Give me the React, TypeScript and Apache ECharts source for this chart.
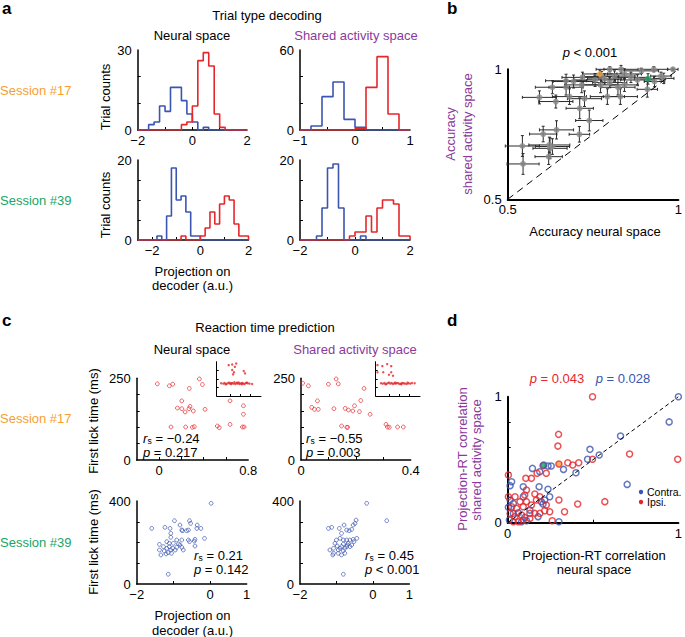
import React, { useEffect, useRef } from 'react';
import * as echarts from 'echarts';

const FONTNAME = '"Liberation Sans", Arial, Helvetica, sans-serif';
const RED = '#e5262b';
const BLUE = '#3b55b0';
const ORANGE = '#f5a032';
const GREEN = '#1aa564';
const PURPLE = '#8b3a9c';
const GRAY = '#8a8a8a';

// ---------- Panel a: histograms (bin width 0.2) ----------
const BIN = 0.2;
const a17NeuralBlueStart = -1.6;
const a17NeuralBlue = [2, 3, 9, 7, 16, 16, 11, 6, 3, 0, 1];
const a17NeuralRedStart = -0.4;
const a17NeuralRed = [2, 3, 9, 26, 29, 24, 6, 1];
const a17SharedBlueStart = -0.8;
const a17SharedBlue = [3, 25, 36, 8, 2];
const a17SharedRedStart = 0;
const a17SharedRed = [1, 32, 55, 12];
const a39NeuralBlueStart = -1.8;
const a39NeuralBlue = [1, 0, 6, 18, 10, 11, 7, 1, 1];
const a39NeuralRedStart = -0.8;
const a39NeuralRed = [1, 0, 0, 0, 1, 3, 7, 4, 9, 11, 10, 4, 1, 1];
const a39SharedBlueStart = -1.4;
const a39SharedBlue = [1, 8, 18, 19, 8, 0, 0, 0, 1];
const a39SharedRedStart = -0.2;
const a39SharedRed = [1, 2, 2, 6, 2, 8, 10, 10, 9, 1, 1];

// ---------- Panel b: accuracy ----------
const bNeural = [0.984, 0.928, 0.949, 0.892, 0.957, 0.799, 0.832, 0.842, 0.813, 0.784, 0.756, 0.861, 0.88, 0.93, 0.909, 0.719, 0.693, 0.671, 0.631, 0.671, 0.717, 0.772, 0.823, 0.842, 0.792, 0.83, 0.593, 0.641, 0.681, 0.725, 0.711, 0.739, 0.643, 0.604, 0.71, 0.622, 0.624, 0.543, 0.545, 0.62, 0.631, 0.775, 0.799];
const bShared = [1.0, 1.0, 0.974, 0.994, 0.965, 1.0, 1.0, 0.982, 0.974, 0.963, 0.959, 0.969, 0.959, 0.953, 0.923, 0.969, 0.953, 0.956, 0.931, 0.931, 0.94, 0.94, 0.931, 0.94, 0.895, 0.895, 0.892, 0.876, 0.895, 0.887, 0.85, 0.803, 0.767, 0.751, 0.75, 0.709, 0.696, 0.705, 0.636, 0.664, 0.703, 0.972, 0.949];
const bErrNeural = [0.015, 0.04, 0.03, 0.05, 0.03, 0.04, 0.05, 0.05, 0.06, 0.05, 0.06, 0.05, 0.05, 0.03, 0.03, 0.06, 0.06, 0.06, 0.05, 0.05, 0.05, 0.05, 0.05, 0.04, 0.05, 0.05, 0.05, 0.05, 0.05, 0.05, 0.04, 0.04, 0.05, 0.04, 0.03, 0.06, 0.05, 0.05, 0.047, 0.04, 0.05, 0.05, 0.05];
const bErrShared = [0.005, 0.01, 0.015, 0.01, 0.02, 0.01, 0.015, 0.02, 0.02, 0.02, 0.025, 0.02, 0.02, 0.02, 0.03, 0.02, 0.025, 0.025, 0.025, 0.03, 0.03, 0.03, 0.03, 0.025, 0.03, 0.03, 0.025, 0.025, 0.03, 0.03, 0.04, 0.04, 0.035, 0.03, 0.03, 0.03, 0.04, 0.04, 0.04, 0.03, 0.03, 0.02, 0.02];
const bSession17 = [0.77, 0.982, 0.05, 0.015];
const bSession39 = [0.911, 0.963, 0.04, 0.02];

// ---------- Panel c: RT prediction ----------
const c17NeuralX = [-0.015, 0.093, 0.123, 0.272, 0.362, 0.389, 0.204, 0.165, 0.204, 0.234, 0.269, 0.278, 0.308, 0.413, 0.637, 0.757, 0.757, 0.108, 0.239, 0.299, 0.317, 0.523, 0.541, 0.637, 0.748, 0.763];
const c17NeuralY = [233, 227, 232, 219, 248, 231, 181, 159, 157, 147, 157, 164, 150, 155, 181, 166, 140, 101, 101, 100, 102, 104, 99, 109, 101, 101];
const c17SharedX = [0.006, 0.027, 0.1, 0.128, 0.136, 0.23, 0.06, 0.039, 0.049, 0.063, 0.12, 0.161, 0.173, 0.189, 0.195, 0.213, 0.218, 0.252, 0.148, 0.167, 0.17, 0.31, 0.315, 0.322, 0.352, 0.373];
const c17SharedY = [235, 227, 232, 248, 233, 219, 181, 161, 155, 155, 157, 158, 153, 150, 166, 148, 182, 140, 104, 100, 100, 109, 101, 100, 101, 101];
const c39NeuralX = [-1.59, -1.23, -1.09, -0.97, -0.82, -0.56, -0.53, -0.77, -0.75, -0.64, -0.59, -0.36, -0.35, -0.25, 0.03, -1.07, -1.07, -1.18, -0.91, -0.77, -1.38, -1.38, -1.34, -1.25, -1.18, -1.11, -1.07, -1.02, -0.95, -0.91, -1.14, -1.05, -0.82, -0.77, -0.86, -0.59, -0.56, -0.41, -0.43, -0.15, -1.14, -1.2, -1.0, -1.11, -1.27, -0.73, -0.41];
const c39NeuralY = [268, 273, 268, 305, 284, 305, 292, 260, 257, 257, 260, 268, 284, 268, 389, 244, 225, 204, 212, 212, 191, 164, 140, 159, 172, 180, 164, 172, 164, 177, 151, 148, 188, 177, 193, 212, 204, 183, 207, 220, 47, 145, 196, 196, 180, 164, 215];
const c39SharedX = [-1.22, -1.13, -0.79, -0.92, -0.72, -0.65, -0.58, -0.54, -0.46, -0.49, -0.86, -0.9, -0.81, -0.72, -0.63, -0.54, -0.44, -1.04, -0.98, -1.08, -1.18, -1.08, -0.95, -0.9, -0.86, -0.81, -0.77, -0.72, -0.68, -0.58, -0.77, -0.86, -0.95, -0.81, -0.63, -0.52, -0.17, 0.38, -0.81, -0.7, -1.0, -1.1];
const c39SharedY = [268, 273, 284, 268, 260, 257, 263, 284, 308, 292, 244, 220, 212, 212, 212, 215, 220, 196, 183, 172, 164, 148, 164, 172, 180, 161, 172, 180, 196, 188, 148, 140, 148, 193, 180, 204, 389, 305, 47, 188, 212, 140];
// insets (relative units)
const insetNeuralX = [0.1, 0.15, 0.18, 0.22, 0.25, 0.28, 0.3, 0.33, 0.35, 0.38, 0.4, 0.42, 0.45, 0.48, 0.5, 0.52, 0.55, 0.58, 0.6, 0.63, 0.66, 0.7, 0.74, 0.8, 0.27, 0.35, 0.44, 0.41, 0.35, 0.39, 0.37, 0.61, 0.64, 0.32, 0.2, 0.46, 0.57, 0.68];
const insetNeuralY = [0.37, 0.36, 0.38, 0.35, 0.37, 0.39, 0.36, 0.35, 0.38, 0.36, 0.4, 0.35, 0.37, 0.36, 0.39, 0.35, 0.37, 0.38, 0.36, 0.35, 0.38, 0.37, 0.36, 0.35, 0.9, 0.92, 0.95, 0.85, 0.76, 0.69, 0.63, 0.73, 0.66, 0.37, 0.34, 0.39, 0.34, 0.39];
const insetSharedX = [0.12, 0.16, 0.2, 0.24, 0.27, 0.3, 0.33, 0.36, 0.39, 0.42, 0.45, 0.48, 0.51, 0.54, 0.57, 0.6, 0.63, 0.66, 0.7, 0.74, 0.78, 0.82, 0.88, 0.04, 0.15, 0.26, 0.35, 0.04, 0.17, 0.35, 0.39, 0.3, 0.22, 0.44, 0.58, 0.72];
const insetSharedY = [0.37, 0.36, 0.38, 0.35, 0.37, 0.39, 0.36, 0.38, 0.35, 0.37, 0.36, 0.38, 0.37, 0.35, 0.36, 0.38, 0.37, 0.36, 0.35, 0.37, 0.36, 0.38, 0.37, 0.9, 0.87, 0.93, 0.87, 0.69, 0.69, 0.69, 0.59, 0.62, 0.34, 0.39, 0.34, 0.39];

// ---------- Panel d: projection-RT correlations ----------
const dContraX = [1.0, 0.946, 0.661, 0.482, 0.536, 0.468, 0.4, 0.327, 0.145, 0.255, 0.236, 0.188, 0.7, 0.023, 0.014, 0.091, 0.184, 0.236, 0.3, 0.014, 0.004, 0.033, 0.091, 0.207, 0.217, 0.1, 0.081, 0.11, 0.178, 0.033, 0.062, 0.01, 0.197, 0.246, 0.13];
const dContraY = [1.0, 0.8, 0.688, 0.582, 0.537, 0.503, 0.397, 0.423, 0.431, 0.45, 0.45, 0.405, 0.304, 0.325, 0.294, 0.286, 0.286, 0.265, 0.008, 0.18, 0.122, 0.153, 0.206, 0.148, 0.18, 0.042, 0.008, 0.016, 0.048, 0.074, 0.079, 0.021, 0.167, 0.206, 0.1];
const dIpsiX = [0.497, 0.298, 0.294, 0.714, 0.996, 0.497, 0.416, 0.381, 0.352, 0.207, 0.172, 0.139, 0.106, 0.226, 0.004, 0.159, 0.11, 0.1, 0.004, 0.043, 0.3, 0.569, 0.41, 0.333, 0.246, 0.261, 0.13, 0.081, 0.062, 0.033, 0.014, 0.023, 0.052, 0.091, 0.11, 0.139, 0.168, 0.188, 0.13, 0.159, 0.217, 0.072, 0.043, 0.188, 0.226, 0.091];
const dIpsiY = [1.0, 0.701, 0.608, 0.545, 0.503, 0.503, 0.476, 0.458, 0.476, 0.452, 0.392, 0.352, 0.352, 0.392, 0.378, 0.228, 0.259, 0.22, 0.206, 0.206, 0.18, 0.167, 0.148, 0.087, 0.087, 0.016, 0.074, 0.061, 0.008, 0.008, 0.074, 0.127, 0.114, 0.127, 0.167, 0.14, 0.18, 0.206, 0.034, 0.074, 0.095, 0.167, 0.048, 0.074, 0.14, 0.021];
const dSession17 = [0.3, 0.466];
const dSession39 = [0.211, 0.458];

// ---------- helpers ----------
const fmt = (v: number) => (v < 0 ? '\u2212' + String(Math.abs(v)) : String(v));
const zip = (xs: number[], ys: number[]) => xs.map((x, i) => [x, ys[i]]);

function steps(start: number, counts: number[], xmin: number, xmax: number) {
  const pts: number[][] = [[xmin, 0]];
  counts.forEach((c, i) => pts.push([+(start + i * BIN).toFixed(4), c]));
  pts.push([+(start + counts.length * BIN).toFixed(4), 0]);
  pts.push([xmax, 0]);
  return pts;
}

function axis(grid: number, min: number, max: number, ticks: number[], labels: number[], isY: boolean, opt: any = {}) {
  return {
    type: 'value',
    gridIndex: grid,
    min,
    max,
    axisLine: { show: true, onZero: false, lineStyle: { color: '#000', width: opt.lw ?? 1.5 } },
    axisTick: { show: true, inside: true, length: opt.tl ?? 3, customValues: ticks, lineStyle: { color: '#000', width: 1 } },
    axisLabel: {
      show: labels.length > 0,
      customValues: labels,
      formatter: (v: number) => fmt(v),
      color: '#000',
      fontSize: 13,
      fontFamily: FONTNAME,
      margin: isY ? 6 : 4,
    },
    splitLine: { show: false },
  };
}

function hist(grid: number, start: number, counts: number[], xmin: number, xmax: number, color: string) {
  return {
    type: 'line',
    xAxisIndex: grid,
    yAxisIndex: grid,
    data: steps(start, counts, xmin, xmax),
    step: 'end',
    symbol: 'none',
    showSymbol: false,
    silent: true,
    lineStyle: { color, width: 1.6 },
  };
}

function openScatter(grid: number, data: number[][], color: string, size: number, bw: number) {
  return {
    type: 'scatter',
    xAxisIndex: grid,
    yAxisIndex: grid,
    data,
    symbol: 'circle',
    symbolSize: size,
    silent: true,
    itemStyle: { color: 'rgba(0,0,0,0)', borderColor: color, borderWidth: bw },
  };
}

function T(text: string, x: number, y: number, o: any = {}) {
  const size = o.size || 13;
  return {
    type: 'text',
    x,
    y,
    rotation: o.rot || 0,
    silent: true,
    style: {
      text,
      fill: o.color || '#000',
      font: `${o.italic ? 'italic ' : ''}${o.bold ? 'bold ' : ''}${size}px ${FONTNAME}`,
      lineHeight: size,
      align: o.align || 'center',
      verticalAlign: 'middle',
      rich: o.rich,
    },
  };
}

function statRich(color: string) {
  return {
    i: { fontStyle: 'italic', fontSize: 13, lineHeight: 13, fontFamily: FONTNAME, fill: color },
    n: { fontSize: 13, lineHeight: 13, fontFamily: FONTNAME, fill: color },
  };
}

// "r_s = value" built from three plain texts (r italic, s subscript, rest)
function rsText(x: number, y: number, value: string) {
  return [
    T('r', x, y, { italic: true, align: 'left' }),
    T('s', x + 4.6, y + 2.6, { size: 8.5, align: 'left' }),
    T('= ' + value, x + 12.5, y, { align: 'left' }),
  ];
}

const errorBarItem = (params: any, api: any) => {
  const x = api.value(0), y = api.value(1), ex = api.value(2), ey = api.value(3);
  const l = api.coord([x - ex, y]), r = api.coord([x + ex, y]);
  const b = api.coord([x, y - ey]), t = api.coord([x, y + ey]);
  const st = { stroke: '#2a2a2a', lineWidth: 1 };
  const c = 1.5;
  return {
    type: 'group',
    children: [
      { type: 'line', shape: { x1: l[0], y1: l[1], x2: r[0], y2: r[1] }, style: st },
      { type: 'line', shape: { x1: b[0], y1: b[1], x2: t[0], y2: t[1] }, style: st },
      { type: 'line', shape: { x1: l[0], y1: l[1] - c, x2: l[0], y2: l[1] + c }, style: st },
      { type: 'line', shape: { x1: r[0], y1: r[1] - c, x2: r[0], y2: r[1] + c }, style: st },
      { type: 'line', shape: { x1: b[0] - c, y1: b[1], x2: b[0] + c, y2: b[1] }, style: st },
      { type: 'line', shape: { x1: t[0] - c, y1: t[1], x2: t[0] + c, y2: t[1] }, style: st },
    ],
  };
};

function buildOption() {
  const grids = [
    { left: 137.7, top: 50, width: 109.3, height: 80 },
    { left: 300, top: 50, width: 110, height: 80 },
    { left: 137.7, top: 160, width: 110.8, height: 80 },
    { left: 300, top: 160, width: 110, height: 80 },
    { left: 507.7, top: 69.3, width: 174.3, height: 130 },
    { left: 136.7, top: 378.3, width: 111.5, height: 81.7 },
    { left: 301, top: 378.3, width: 109.7, height: 81.7 },
    { left: 136.7, top: 501, width: 110, height: 83 },
    { left: 300, top: 501, width: 109.3, height: 83 },
    { left: 507.7, top: 396.7, width: 172.3, height: 126 },
    { left: 216.7, top: 361.7, width: 44.3, height: 34.3 },
    { left: 375.7, top: 361.7, width: 44.3, height: 34.3 },
  ].map((g) => ({ ...g, containLabel: false }));

  const xAxis = [
    axis(0, -2, 2, [-1, 0, 1], [-2, 0, 2], false),
    axis(1, -1, 1, [-0.5, 0, 0.5], [-1, 0, 1], false),
    axis(2, -2.6, 2, [-2, -1, 0, 1], [-2, 0, 2], false),
    axis(3, -2, 2, [-1, 0, 1], [-2, 0, 2], false),
    axis(4, 0.5, 1, [], [0.5, 1], false, { lw: 2 }),
    axis(5, -0.2, 0.8, [0, 0.2, 0.4, 0.6], [0, 0.8], false),
    axis(6, 0, 0.4, [0.1, 0.2, 0.3], [0, 0.4], false),
    axis(7, -2, 1, [-1, 0], [-2, 0, 1], false),
    axis(8, -2, 1, [-1, 0], [-2, 0, 1], false),
    axis(9, 0, 1, [0.5], [0, 1], false, { lw: 2 }),
    axis(10, 0, 1, [0.3, 0.53, 0.76], [], false, { lw: 1, tl: 2 }),
    axis(11, 0, 1, [0.3, 0.53, 0.76], [], false, { lw: 1, tl: 2 }),
  ];
  const yAxis = [
    axis(0, 0, 30, [10, 20], [0, 30], true),
    axis(1, 0, 60, [20, 40], [0, 60], true),
    axis(2, 0, 20, [5, 10, 15], [0, 20], true),
    axis(3, 0, 20, [5, 10, 15], [0, 20], true),
    axis(4, 0.5, 1, [], [0.5, 1], true, { lw: 2 }),
    axis(5, 0, 250, [50, 100, 150, 200], [0, 250], true),
    axis(6, 0, 250, [50, 100, 150, 200], [0, 250], true),
    axis(7, 0, 400, [100, 200, 300], [0, 400], true),
    axis(8, 0, 400, [100, 200, 300], [0, 400], true),
    axis(9, 0, 1, [0.2, 0.4, 0.6, 0.8], [0, 1], true, { lw: 2 }),
    axis(10, 0, 1, [0.25, 0.5, 0.75], [], true, { lw: 1, tl: 2 }),
    axis(11, 0, 1, [0.25, 0.5, 0.75], [], true, { lw: 1, tl: 2 }),
  ];

  const bData = bNeural.map((x, i) => [x, bShared[i], bErrNeural[i], bErrShared[i]]);

  const series: any[] = [
    hist(0, a17NeuralBlueStart, a17NeuralBlue, -2, 2, BLUE),
    hist(0, a17NeuralRedStart, a17NeuralRed, -2, 2, RED),
    hist(1, a17SharedBlueStart, a17SharedBlue, -1, 1, BLUE),
    hist(1, a17SharedRedStart, a17SharedRed, -1, 1, RED),
    hist(2, a39NeuralBlueStart, a39NeuralBlue, -2.6, 2, BLUE),
    hist(2, a39NeuralRedStart, a39NeuralRed, -2.6, 2, RED),
    hist(3, a39SharedBlueStart, a39SharedBlue, -2, 2, BLUE),
    hist(3, a39SharedRedStart, a39SharedRed, -2, 2, RED),
    // panel b
    {
      type: 'line', xAxisIndex: 4, yAxisIndex: 4, data: [[0.5, 0.5], [1, 1]], symbol: 'none', silent: true,
      lineStyle: { color: '#000', width: 1, type: [7, 5] },
    },
    {
      type: 'custom', xAxisIndex: 4, yAxisIndex: 4, renderItem: errorBarItem, silent: true, clip: false,
      encode: { x: 0, y: 1 }, data: [...bData, bSession17, bSession39],
    },
    {
      type: 'scatter', xAxisIndex: 4, yAxisIndex: 4, data: bData.map((d) => [d[0], d[1]]), symbol: 'circle',
      symbolSize: 6, silent: true, itemStyle: { color: GRAY },
    },
    {
      type: 'scatter', xAxisIndex: 4, yAxisIndex: 4, data: [[bSession17[0], bSession17[1]]], symbol: 'circle',
      symbolSize: 6, silent: true, itemStyle: { color: ORANGE },
    },
    {
      type: 'scatter', xAxisIndex: 4, yAxisIndex: 4, data: [[bSession39[0], bSession39[1]]], symbol: 'circle',
      symbolSize: 6, silent: true, itemStyle: { color: GREEN },
    },
    // panel c
    openScatter(5, zip(c17NeuralX, c17NeuralY), RED, 3.8, 0.9),
    openScatter(6, zip(c17SharedX, c17SharedY), RED, 3.8, 0.9),
    openScatter(7, zip(c39NeuralX, c39NeuralY), BLUE, 3.8, 0.9),
    openScatter(8, zip(c39SharedX, c39SharedY), BLUE, 3.8, 0.9),
    {
      type: 'scatter', xAxisIndex: 10, yAxisIndex: 10, data: zip(insetNeuralX, insetNeuralY), symbol: 'circle',
      symbolSize: 2.4, silent: true, itemStyle: { color: RED },
    },
    {
      type: 'scatter', xAxisIndex: 11, yAxisIndex: 11, data: zip(insetSharedX, insetSharedY), symbol: 'circle',
      symbolSize: 2.4, silent: true, itemStyle: { color: RED },
    },
    // panel d
    {
      type: 'line', xAxisIndex: 9, yAxisIndex: 9, data: [[0, 0], [1, 1]], symbol: 'none', silent: true,
      lineStyle: { color: '#000', width: 1, type: [4, 3] },
    },
    openScatter(9, zip(dContraX, dContraY), BLUE, 6, 1.5),
    openScatter(9, zip(dIpsiX, dIpsiY), RED, 6, 1.5),
    {
      type: 'scatter', xAxisIndex: 9, yAxisIndex: 9, data: [dSession39], symbol: 'circle', symbolSize: 6, silent: true,
      itemStyle: { color: GREEN, borderColor: BLUE, borderWidth: 1.5 },
    },
    {
      type: 'scatter', xAxisIndex: 9, yAxisIndex: 9, data: [dSession17], symbol: 'circle', symbolSize: 6, silent: true,
      itemStyle: { color: ORANGE, borderColor: RED, borderWidth: 1.5 },
    },
  ];

  const graphic: any[] = [
    // panel a
    T('a', 2, 8, { bold: true, size: 17, align: 'left' }),
    T('Trial type decoding', 267, 15),
    T('Neural space', 192, 35),
    T('Shared activity space', 356, 35, { color: PURPLE }),
    T('Session #17', 0, 90, { color: ORANGE, align: 'left' }),
    T('Session #39', 0, 200, { color: GREEN, align: 'left' }),
    T('Trial counts', 105, 97, { rot: Math.PI / 2 }),
    T('Trial counts', 105, 205, { rot: Math.PI / 2 }),
    T('Projection on', 192.5, 271),
    T('decoder (a.u.)', 192.5, 285),
    // panel b
    T('b', 447, 8, { bold: true, size: 17, align: 'left' }),
    T('{i|p}{n| < 0.001}', 590, 52, { rich: statRich('#000') }),
    T('Accuracy', 450, 134, { rot: Math.PI / 2, color: PURPLE }),
    T('shared activity space', 467, 134, { rot: Math.PI / 2, color: PURPLE }),
    T('Accuracy neural space', 595, 231),
    // panel c
    T('c', 2, 320, { bold: true, size: 17, align: 'left' }),
    T('Reaction time prediction', 265, 327),
    T('Neural space', 192, 349),
    T('Shared activity space', 355, 349, { color: PURPLE }),
    T('Session #17', 0, 418, { color: ORANGE, align: 'left' }),
    T('Session #39', 0, 542, { color: GREEN, align: 'left' }),
    T('First lick time (ms)', 93, 421, { rot: Math.PI / 2 }),
    T('First lick time (ms)', 93, 542, { rot: Math.PI / 2 }),
    ...rsText(143, 438, '\u22120.24'),
    T('{i|p}{n| = 0.217}', 143, 452, { align: 'left', rich: statRich('#000') }),
    ...rsText(306, 438, '\u22120.55'),
    T('{i|p}{n| = 0.003}', 306, 452, { align: 'left', rich: statRich('#000') }),
    ...rsText(194, 555.5, '0.21'),
    T('{i|p}{n| = 0.142}', 194, 569, { align: 'left', rich: statRich('#000') }),
    ...rsText(365, 555.5, '0.45'),
    T('{i|p}{n| < 0.001}', 365, 569, { align: 'left', rich: statRich('#000') }),
    T('Projection on', 192.5, 615),
    T('decoder (a.u.)', 192.5, 630),
    // panel d
    T('d', 447, 320, { bold: true, size: 17, align: 'left' }),
    T('{i|p}{n| = 0.043}', 557, 378, { rich: statRich(RED) }),
    T('{i|p}{n| = 0.028}', 623, 378, { rich: statRich(BLUE) }),
    T('Projection-RT correlation', 462, 459, { rot: Math.PI / 2, color: PURPLE }),
    T('shared activity space', 476, 460, { rot: Math.PI / 2, color: PURPLE }),
    T('Projection-RT correlation', 594, 555),
    T('neural space', 594, 569),
    { type: 'circle', shape: { cx: 641, cy: 492, r: 2.2 }, style: { fill: BLUE }, silent: true },
    { type: 'circle', shape: { cx: 641, cy: 502, r: 2.2 }, style: { fill: RED }, silent: true },
    T('Contra.', 647, 491.5, { align: 'left', size: 10.5 }),
    T('Ipsi.', 647, 502, { align: 'left', size: 10.5 }),
  ];

  return {
    animation: false,
    backgroundColor: '#fff',
    textStyle: { fontFamily: FONTNAME },
    grid: grids,
    xAxis,
    yAxis,
    series,
    graphic,
  };
}

export default function App() {
  const ref = useRef<HTMLDivElement>(null);
  useEffect(() => {
    if (!ref.current) return;
    const chart = echarts.init(ref.current, null, { renderer: 'svg' });
    chart.setOption(buildOption() as any);
    return () => chart.dispose();
  }, []);
  return (
    <div
      ref={ref}
      style={{ position: 'absolute', left: 0, top: 0, width: 685, height: 637, background: '#fff' }}
    />
  );
}
